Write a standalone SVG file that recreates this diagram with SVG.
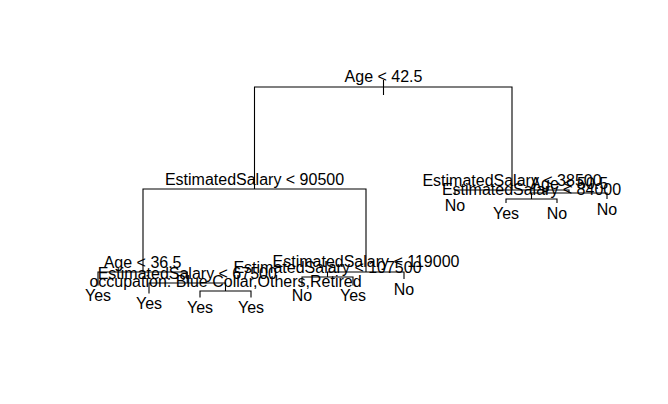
<svg xmlns="http://www.w3.org/2000/svg" width="668" height="404" viewBox="0 0 668 404">
<style>
text{font-family:"Liberation Sans",Arial,Helvetica,sans-serif;font-size:16px;fill:#000;text-anchor:middle}
.c path{fill:none;stroke:#000;stroke-width:1.1}
</style>
<rect width="668" height="404" fill="#fff"/>
<g class="c" id="connectors">
<path d="M383.5,80V95"/>
<path d="M254.5,189V87H512V190"/>
<path d="M143,272V189H366V272"/>
<path d="M98,285.5V272H187.25V283"/>
<path d="M149,293.5V283H225.5V291"/>
<path d="M200,297.5V291H251V297.5"/>
<path d="M327.5,277V272H404V279"/>
<path d="M302,285.5V277H353V285.5"/>
<path d="M455,195V190H569V193"/>
<path d="M531.5,199V193H607V199"/>
<path d="M506,203V199H557V203"/>
</g>
<g id="n_root"><text x="383.5" y="82">Age &lt; 42.5</text></g>
<g id="n_sal90500"><text x="254.5" y="185">EstimatedSalary &lt; 90500</text></g>
<g id="n_age36"><text x="142.6" y="267.5">Age &lt; 36.5</text></g>
<g id="n_sal67500"><text x="187.25" y="279">EstimatedSalary &lt; 67500</text></g>
<g id="n_occ"><text x="225.5" y="287">occupation: Blue Collar,Others,Retired</text></g>
<g id="n_sal119000"><text x="366" y="267">EstimatedSalary &lt; 119000</text></g>
<g id="n_sal107500"><text x="327.5" y="273">EstimatedSalary &lt; 107500</text></g>
<g id="n_sal38500"><text x="512" y="185.5">EstimatedSalary &lt; 38500</text></g>
<g id="n_age50"><text x="569.25" y="188.5">Age &lt; 50.5</text></g>
<g id="n_sal84000"><text x="531.5" y="194.5">EstimatedSalary &lt; 84000</text></g>
<g id="leaf1"><text x="98" y="301">Yes</text></g>
<g id="leaf2"><text x="149" y="309">Yes</text></g>
<g id="leaf3"><text x="200" y="313">Yes</text></g>
<g id="leaf4"><text x="251" y="313">Yes</text></g>
<g id="leaf5"><text x="302" y="301">No</text></g>
<g id="leaf6"><text x="353" y="301">Yes</text></g>
<g id="leaf7"><text x="404" y="294.5">No</text></g>
<g id="leaf8"><text x="455" y="210.5">No</text></g>
<g id="leaf9"><text x="506" y="218.5">Yes</text></g>
<g id="leaf10"><text x="557" y="218.5">No</text></g>
<g id="leaf11"><text x="607" y="214.5">No</text></g>
</svg>
